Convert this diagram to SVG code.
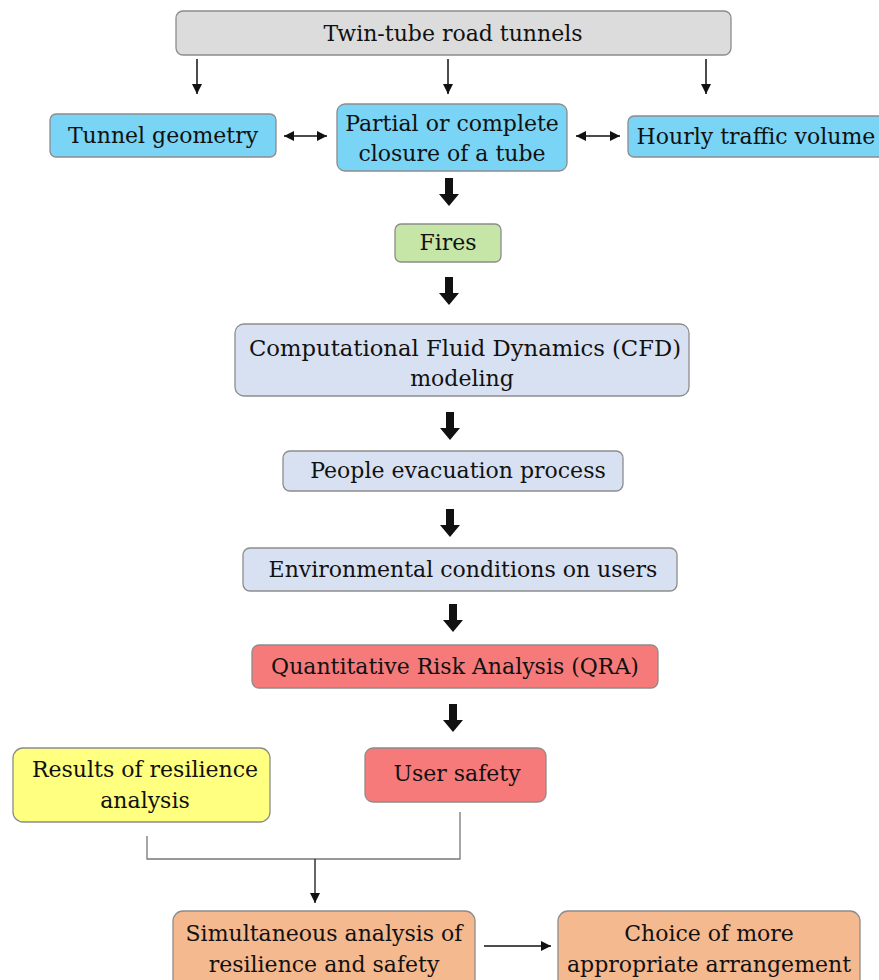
<svg xmlns="http://www.w3.org/2000/svg" width="879" height="980" viewBox="0 0 879 980">
<defs>
<style>
.box{stroke:#8c8c8c;stroke-width:1.3}
.gray{fill:#dcdcdc}.blue{fill:#79d4f5}.green{fill:#c6e6a8}.lb{fill:#d8e1f1}.red{fill:#f77a7a}.yel{fill:#ffff80}.org{fill:#f5b98f}
text{font-family:"DejaVu Serif","Liberation Serif",serif;font-size:22px;fill:#111;text-anchor:middle}
.ln{stroke:#111;stroke-width:1.5;fill:none}
.gl{stroke:#777;stroke-width:1.3;fill:none}
.thick{fill:#111}
</style>
<marker id="ah" viewBox="0 0 10 10" refX="10" refY="5" markerWidth="10" markerHeight="10" markerUnits="userSpaceOnUse" orient="auto-start-reverse">
<path d="M0,0 L10,5 L0,10 z" fill="#111"/>
</marker>
<polygon id="tk" points="-4,0 4,0 4,16 10,16 0,28 -10,16 -4,16" class="thick"/>
</defs>
<rect width="879" height="980" fill="#fff"/>
<g id="connectors">
<line class="ln" x1="197" y1="59" x2="197" y2="94" marker-end="url(#ah)"/>
<line class="ln" x1="448" y1="59" x2="448" y2="94" marker-end="url(#ah)"/>
<line class="ln" x1="706" y1="59" x2="706" y2="94" marker-end="url(#ah)"/>
<line class="ln" x1="284" y1="136" x2="327" y2="136" marker-start="url(#ah)" marker-end="url(#ah)"/>
<line class="ln" x1="576" y1="136" x2="620" y2="136" marker-start="url(#ah)" marker-end="url(#ah)"/>
<use href="#tk" x="449" y="178"/>
<use href="#tk" x="449" y="277"/>
<use href="#tk" x="450" y="412"/>
<use href="#tk" x="450" y="509"/>
<use href="#tk" x="453" y="604"/>
<use href="#tk" x="453" y="704"/>
<polyline class="gl" points="147,836 147,859 460,859 460,812"/>
<line class="ln" x1="315" y1="859" x2="315" y2="903" style="stroke:#333" marker-end="url(#ah)"/>
<line class="ln" x1="484" y1="946" x2="551" y2="946" marker-end="url(#ah)"/>
</g>
<g id="n-twin"><rect class="box gray" x="176" y="11" width="555" height="44" rx="7"/><text x="453" y="41">Twin-tube road tunnels</text></g>
<g id="n-geom"><rect class="box blue" x="50" y="114" width="226" height="43" rx="6"/><text x="163" y="143">Tunnel geometry</text></g>
<g id="n-partial"><rect class="box blue" x="337" y="104" width="230" height="67" rx="8"/><text x="452" y="131">Partial or complete</text><text x="452" y="161">closure of a tube</text></g>
<g id="n-hourly"><rect class="box blue" x="628" y="116" width="260" height="41" rx="6"/><text x="756" y="144">Hourly traffic volume</text></g>
<g id="n-fires"><rect class="box green" x="395" y="224" width="106" height="38" rx="6"/><text x="448" y="250">Fires</text></g>
<g id="n-cfd"><rect class="box lb" x="235" y="324" width="454" height="72" rx="9"/><text x="465" y="356" style="font-size:22.7px">Computational Fluid Dynamics (CFD)</text><text x="462" y="386">modeling</text></g>
<g id="n-evac"><rect class="box lb" x="283" y="451" width="340" height="40" rx="7"/><text x="458" y="478">People evacuation process</text></g>
<g id="n-env"><rect class="box lb" x="243" y="548" width="434" height="43" rx="7"/><text x="463" y="577">Environmental conditions on users</text></g>
<g id="n-qra"><rect class="box red" x="252" y="645" width="406" height="43" rx="7"/><text x="455" y="674">Quantitative Risk Analysis (QRA)</text></g>
<g id="n-results"><rect class="box yel" x="13" y="748" width="257" height="74" rx="10"/><text x="145" y="777">Results of resilience</text><text x="145" y="808">analysis</text></g>
<g id="n-safety"><rect class="box red" x="365" y="748" width="181" height="54" rx="8"/><text x="457" y="781">User safety</text></g>
<g id="n-simul"><rect class="box org" x="173" y="911" width="302" height="80" rx="10"/><text x="324" y="941">Simultaneous analysis of</text><text x="324" y="972">resilience and safety</text></g>
<g id="n-choice"><rect class="box org" x="558" y="911" width="302" height="80" rx="10"/><text x="709" y="941">Choice of more</text><text x="709" y="972">appropriate arrangement</text></g>
</svg>
